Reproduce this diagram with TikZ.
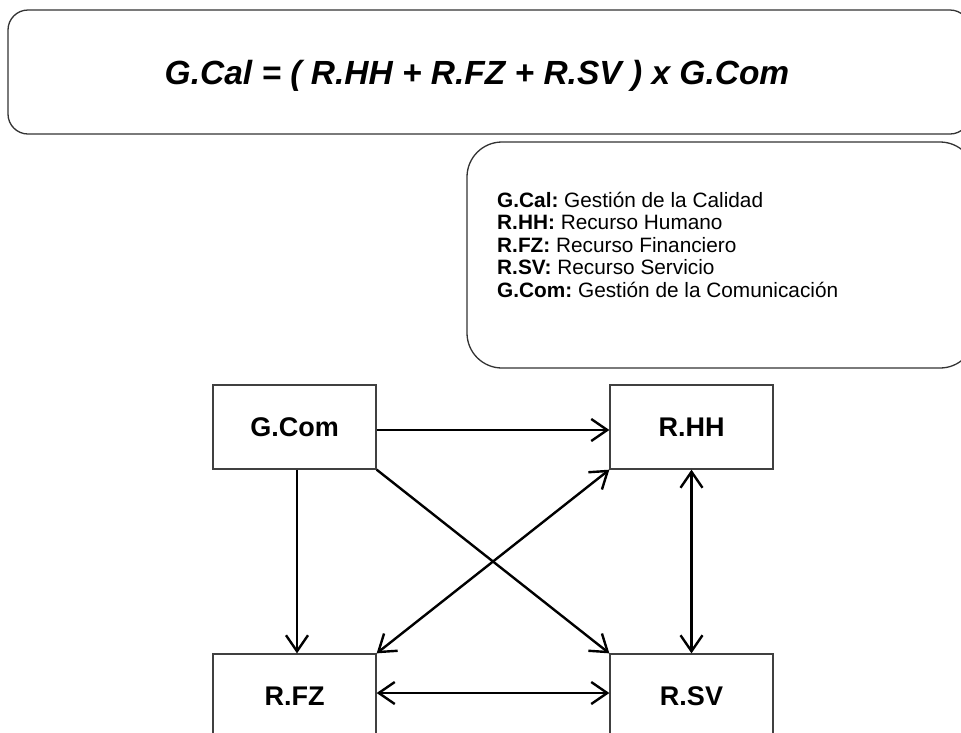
\documentclass[tikz,border=0pt]{standalone}
\usepackage{fontspec}
\setmainfont{Liberation Sans}
\usetikzlibrary{arrows.meta}
\frenchspacing
\begin{document}
\begin{tikzpicture}[x=1pt,y=-1pt,
  panel/.style={draw=black!80,line width=1.3pt},
  entity/.style={draw=black!75,line width=1.3pt,minimum width=163pt,minimum height=84pt,inner sep=0pt,font=\fontsize{27}{32}\selectfont\bfseries},
  barb/.tip={Straight Barb[length=16pt,width=22pt,line width=2.4pt]},
  link/.style={line width=2.4pt,-barb},
  blink/.style={line width=2.4pt,barb-barb},
  legline/.style={anchor=base west,inner sep=0pt,font=\fontsize{20.8}{24}\selectfont}]
\useasboundingbox (0,0) rectangle (961,732);
\clip (0,0) rectangle (961,732);
% top formula panel
\draw[panel,rounded corners=20pt] (8,10) rectangle (970,134);
\node[anchor=base,inner sep=0pt,font=\fontsize{33.5}{40}\selectfont\bfseries\itshape] (formula) at (477,84)
  {G.Cal = ( R.HH + R.FZ + R.SV ) x G.Com};
% legend panel
\draw[panel,rounded corners=35pt] (467,142) rectangle (975,368);
\node[legline] (l1) at (497,207) {\textbf{G.Cal:} Gestión de la Calidad};
\node[legline] (l2) at (497,229.5) {\textbf{R.HH:} Recurso Humano};
\node[legline] (l3) at (497,252) {\textbf{R.FZ:} Recurso Financiero};
\node[legline] (l4) at (497,274.5) {\textbf{R.SV:} Recurso Servicio};
\node[legline] (l5) at (497,297) {\textbf{G.Com:} Gestión de la Comunicación};
% entity boxes
\node[entity] (gcom) at (294.5,427) {G.Com};
\node[entity] (rhh) at (691.5,427) {R.HH};
\node[entity] (rfz) at (294.5,696) {R.FZ};
\node[entity] (rsv) at (691.5,696) {R.SV};
% connectors
\draw[link] ([yshift=-3pt]gcom.east) -- ([yshift=-3pt]rhh.west);
\draw[link] ([xshift=2.5pt]gcom.south) -- ([xshift=2.5pt]rfz.north);
\draw[link] (gcom.south east) -- (rsv.north west);
\draw[blink] (rfz.north east) -- (rhh.south west);
\draw[blink] (rhh.south) -- (rsv.north);
\draw[blink] ([yshift=3pt]rfz.east) -- ([yshift=3pt]rsv.west);
\end{tikzpicture}
\end{document}
